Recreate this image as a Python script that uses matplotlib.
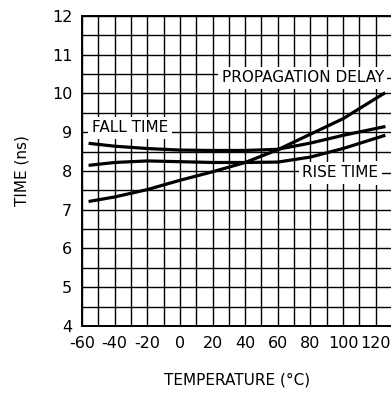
import matplotlib
matplotlib.use("Agg")
import matplotlib.pyplot as plt
from matplotlib.patches import Rectangle
import numpy as np

plt.rcParams['font.family'] = ['DejaVu Sans']
plt.rcParams['axes.unicode_minus'] = False

# temperature (C) and times (ns)
temp = [-55, -40, -20, 0, 20, 40, 60, 80, 100, 125]
prop_delay = [7.22, 7.33, 7.52, 7.76, 7.98, 8.22, 8.55, 8.95, 9.35, 10.0]
fall_time = [8.71, 8.64, 8.58, 8.54, 8.53, 8.53, 8.56, 8.72, 8.92, 9.14]
rise_time = [8.15, 8.22, 8.26, 8.24, 8.22, 8.22, 8.23, 8.36, 8.58, 8.91]

x_ticks = [-60, -40, -20, 0, 20, 40, 60, 80, 100, 120]
y_ticks = [4, 5, 6, 7, 8, 9, 10, 11, 12]

fig = plt.figure(figsize=(3.91, 3.93), dpi=100)
ax = fig.add_axes([82 / 391, 1 - 326 / 393, 310 / 391, 310 / 393])

ax.set_xlim(-60, 130)
ax.set_ylim(4, 12)
ax.set_xticks(x_ticks)
ax.set_yticks(y_ticks)
ax.set_xticks(np.arange(-60, 131, 10), minor=True)
ax.set_yticks(np.arange(4, 12.01, 0.5), minor=True)
ax.grid(True, which='both', color='black', linewidth=1.0)
ax.set_axisbelow(True)
ax.tick_params(which='both', length=0, labelsize=11.5, pad=7)

for side in ['left', 'bottom', 'top']:
    ax.spines[side].set_linewidth(1.4)
ax.spines['right'].set_visible(False)

ax.plot(temp, prop_delay, color='black', linewidth=2.3, zorder=3)
ax.plot(temp, fall_time, color='black', linewidth=2.3, zorder=3)
ax.plot(temp, rise_time, color='black', linewidth=2.3, zorder=3)

# labels sit in white boxes that run to the right edge, with a short leader
box = dict(facecolor='white', edgecolor='none', pad=2.5)
ax.text(-54, 9.11, "FALL TIME", fontsize=11, va='center', ha='left', bbox=box, zorder=4)
ax.text(25.5, 10.4, "PROPAGATION DELAY", fontsize=11, va='center', ha='left', bbox=box, zorder=4)
ax.text(75, 7.95, "RISE TIME", fontsize=11, va='center', ha='left', bbox=box, zorder=4)
for y0, x0 in [(10.4, 122), (7.95, 119)]:
    ax.add_patch(Rectangle((x0, y0 - 0.3), 130 - x0, 0.6, facecolor='white',
                           edgecolor='none', zorder=1, clip_on=False))
    ax.plot([x0 + 4, 130], [y0, y0], color='black', linewidth=1.0, zorder=2)

ax.set_xlabel("TEMPERATURE (°C)", fontsize=11, labelpad=16)
ax.set_ylabel("TIME (ns)", fontsize=11, labelpad=16)

fig.savefig("out.png", dpi=100)
